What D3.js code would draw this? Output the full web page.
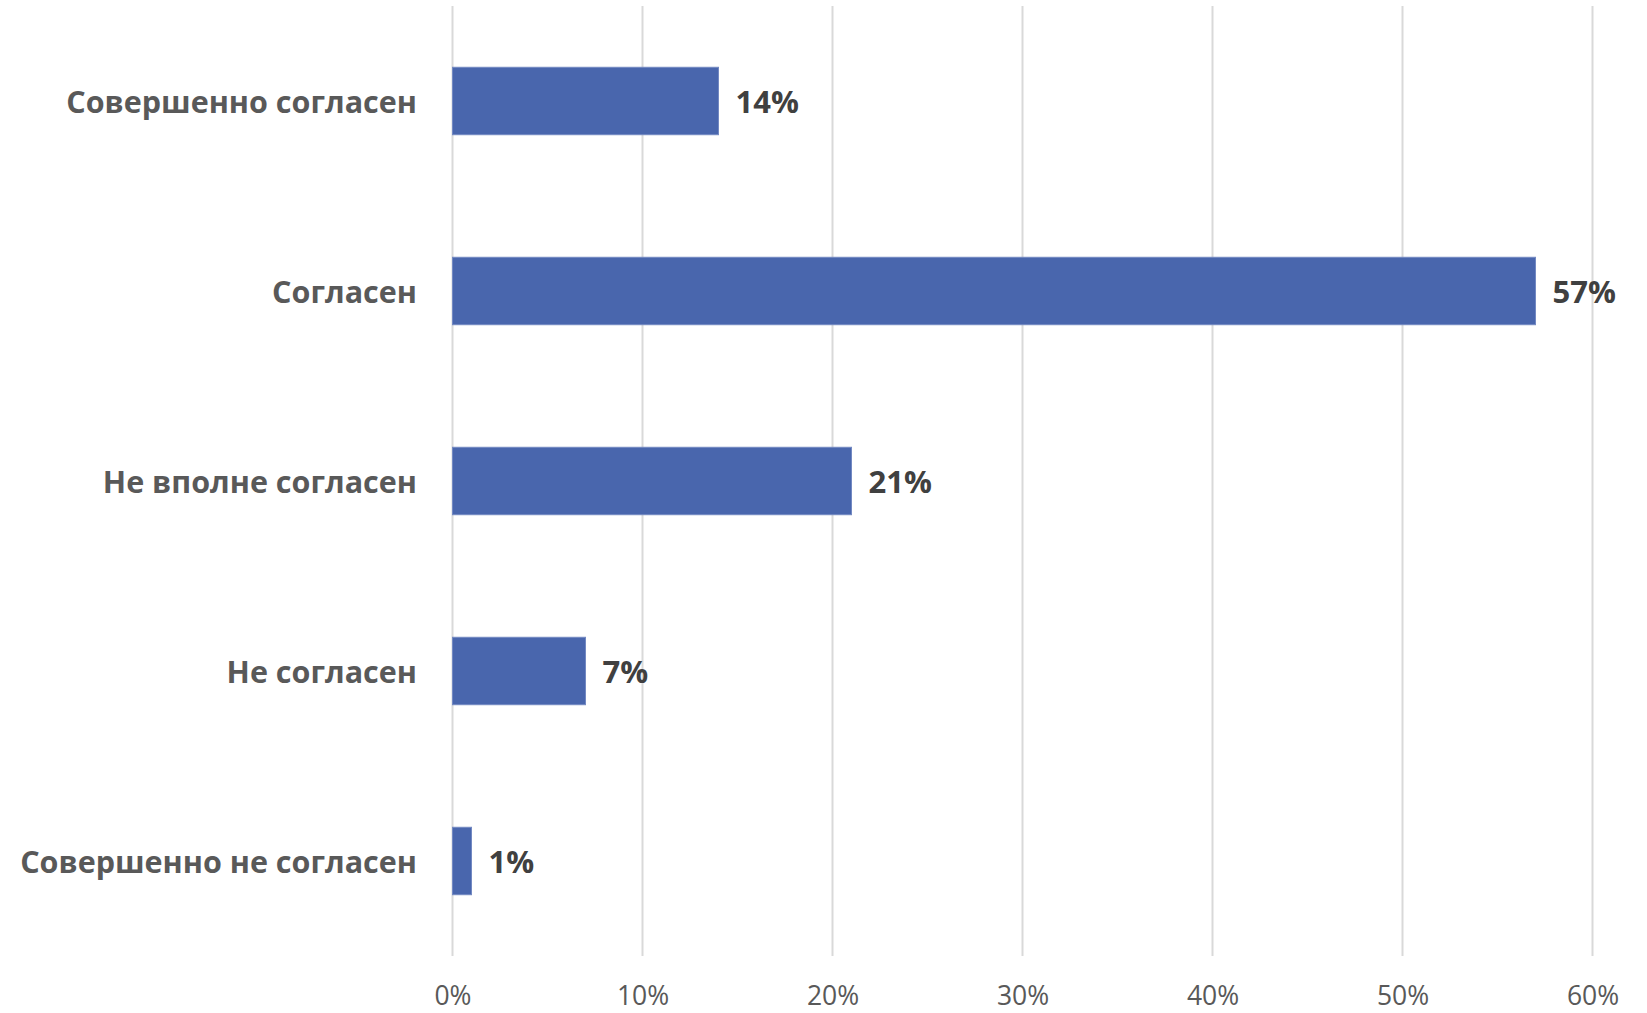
<!DOCTYPE html>
<html>
<head>
<meta charset="utf-8">
<script src="https://cdn.jsdelivr.net/npm/d3@7"></script>
<style>
  html, body { margin: 0; padding: 0; background: #fff; }
  svg { display: block; }
</style>
</head>
<body>
<svg id="chart" width="1647" height="1013"></svg>
<script>
const categories = ["Совершенно согласен", "Согласен", "Не вполне согласен", "Не согласен", "Совершенно не согласен"];
const values = [0.14, 0.57, 0.21, 0.07, 0.01];
const valueLabels = ["14%", "57%", "21%", "7%", "1%"];
const tickValues = [0, 0.1, 0.2, 0.3, 0.4, 0.5, 0.6];
const tickLabels = ["0%", "10%", "20%", "30%", "40%", "50%", "60%"];

const svg = d3.select("#chart");
const font = "'Open Sans', 'Noto Sans', sans-serif";

const x = d3.scaleLinear().domain([0, 0.6]).range([452.5, 1592.5]);
const y = d3.scaleBand().domain(categories).range([6, 956]).paddingInner(0.645).paddingOuter(0.3225);

// gridlines
svg.append("g").selectAll("line").data(tickValues).join("line")
  .attr("x1", d => x(d)).attr("x2", d => x(d))
  .attr("y1", 6).attr("y2", 956)
  .attr("stroke", "#d9d9d9").attr("stroke-width", 2);

// bars
const data = categories.map((c, i) => ({c, v: values[i], l: valueLabels[i]}));
svg.append("g").selectAll("rect").data(data).join("rect")
  .attr("x", x(0))
  .attr("y", d => y(d.c))
  .attr("width", d => x(d.v) - x(0))
  .attr("height", y.bandwidth())
  .attr("fill", "#4966ad")
  .attr("stroke", "#7389c2")
  .attr("stroke-width", 1);

// value labels
svg.append("g").selectAll("text").data(data).join("text")
  .attr("x", d => x(d.v) + 17)
  .attr("y", d => y(d.c) + y.bandwidth() / 2 + 4)
  .attr("dominant-baseline", "middle")
  .attr("font-family", font).attr("font-weight", 700).attr("font-size", 31)
  .attr("fill", "#404040")
  .text(d => d.l);

// category axis labels
svg.append("g").selectAll("text").data(categories).join("text")
  .attr("x", 417)
  .attr("y", d => y(d) + y.bandwidth() / 2 + 4)
  .attr("text-anchor", "end")
  .attr("dominant-baseline", "middle")
  .attr("font-family", font).attr("font-weight", 700).attr("font-size", 30.5)
  .attr("fill", "#595959")
  .text(d => d);

// x axis tick labels
const xAxis = d3.axisBottom(x).tickValues(tickValues).tickFormat((d, i) => tickLabels[i]).tickSize(0).tickPadding(0);
const gx = svg.append("g").attr("transform", "translate(0,1005)").call(xAxis);
gx.select(".domain").remove();
gx.selectAll("text")
  .attr("font-family", font).attr("font-size", 26.5)
  .attr("fill", "#595959")
  .attr("dy", "0");
</script>
</body>
</html>
